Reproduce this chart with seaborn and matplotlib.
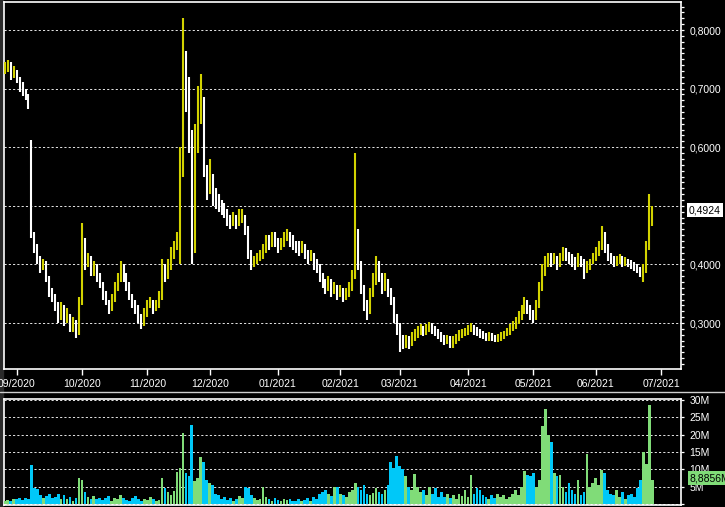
import numpy as np
import pandas as pd
import matplotlib
matplotlib.use("Agg")
import matplotlib.pyplot as plt
import matplotlib.transforms as mtransforms
from matplotlib.lines import Line2D
from matplotlib.patches import Rectangle
from matplotlib.ticker import MultipleLocator, FuncFormatter, FixedLocator
import seaborn as sns

sns.set_theme(style="dark")
plt.rcParams['font.family'] = ['Liberation Sans', 'DejaVu Sans']

# ---- data (one bar per business day) ----
start_date = "2020-08-26"
end_date = "2021-06-28"

close = [
    0.735, 0.742, 0.722, 0.728, 0.715, 0.705, 0.698, 0.688, 0.672, 0.450,
    0.430, 0.410, 0.395, 0.400, 0.375, 0.355, 0.345, 0.330, 0.310, 0.325,
    0.305, 0.310, 0.290, 0.300, 0.285, 0.330, 0.440, 0.400, 0.410, 0.385,
    0.395, 0.380, 0.365, 0.350, 0.335, 0.325, 0.340, 0.360, 0.375, 0.395,
    0.380, 0.365, 0.345, 0.330, 0.325, 0.310, 0.300, 0.315, 0.330, 0.335,
    0.325, 0.330, 0.345, 0.390, 0.380, 0.395, 0.415, 0.430, 0.440, 0.560,
    0.740, 0.700, 0.620, 0.430, 0.600, 0.660, 0.680, 0.560, 0.530, 0.550,
    0.520, 0.510, 0.500, 0.495, 0.490, 0.475, 0.470, 0.480, 0.470, 0.475,
    0.480, 0.460, 0.420, 0.400, 0.405, 0.410, 0.415, 0.425, 0.440, 0.435,
    0.445, 0.440, 0.430, 0.435, 0.445, 0.450, 0.440, 0.435, 0.430, 0.425,
    0.430, 0.420, 0.410, 0.415, 0.400, 0.395, 0.380, 0.370, 0.360, 0.370,
    0.355, 0.360, 0.350, 0.355, 0.345, 0.350, 0.360, 0.380, 0.450, 0.400,
    0.360, 0.330, 0.320, 0.350, 0.370, 0.400, 0.380, 0.360, 0.370, 0.355,
    0.340, 0.310, 0.295, 0.270, 0.265, 0.270, 0.265, 0.275, 0.280, 0.285,
    0.290, 0.285, 0.290, 0.295, 0.290, 0.285, 0.280, 0.275, 0.270, 0.272,
    0.265, 0.270, 0.275, 0.280, 0.282, 0.285, 0.290, 0.292, 0.288, 0.285,
    0.280, 0.278, 0.275, 0.278, 0.275, 0.273, 0.275, 0.278, 0.280, 0.285,
    0.290, 0.295, 0.300, 0.310, 0.320, 0.330, 0.325, 0.315, 0.310, 0.330,
    0.360, 0.390, 0.400, 0.410, 0.405, 0.410, 0.400, 0.410, 0.420, 0.415,
    0.410, 0.405, 0.400, 0.410, 0.405, 0.390, 0.395, 0.400, 0.410, 0.420,
    0.430, 0.450, 0.430, 0.415, 0.410, 0.400, 0.405, 0.410, 0.400, 0.405,
    0.400, 0.398, 0.395, 0.390, 0.385, 0.390, 0.430, 0.470, 0.4924,
]

high = [
    0.745, 0.748, 0.745, 0.738, 0.732, 0.720, 0.712, 0.700, 0.690, 0.612,
    0.455, 0.435, 0.415, 0.410, 0.405, 0.380, 0.360, 0.350, 0.335, 0.335,
    0.330, 0.325, 0.315, 0.310, 0.305, 0.345, 0.470, 0.445, 0.420, 0.415,
    0.405, 0.400, 0.385, 0.370, 0.355, 0.340, 0.350, 0.370, 0.385, 0.405,
    0.400, 0.385, 0.370, 0.350, 0.340, 0.330, 0.315, 0.325, 0.340, 0.345,
    0.340, 0.340, 0.355, 0.410, 0.400, 0.410, 0.430, 0.440, 0.455, 0.600,
    0.820, 0.765, 0.720, 0.630, 0.640, 0.705, 0.725, 0.685, 0.570, 0.580,
    0.555, 0.530, 0.520, 0.510, 0.505, 0.495, 0.485, 0.490, 0.485, 0.495,
    0.495, 0.485, 0.465, 0.425, 0.415, 0.420, 0.425, 0.435, 0.450, 0.450,
    0.455, 0.455, 0.445, 0.445, 0.455, 0.460, 0.455, 0.450, 0.440, 0.440,
    0.440, 0.435, 0.425, 0.425, 0.420, 0.410, 0.400, 0.385, 0.375, 0.380,
    0.375, 0.370, 0.365, 0.365, 0.360, 0.360, 0.370, 0.390, 0.590, 0.460,
    0.405, 0.365, 0.340, 0.360, 0.385, 0.415, 0.405, 0.385, 0.385, 0.375,
    0.360, 0.345, 0.315, 0.300, 0.280, 0.280, 0.278, 0.285, 0.290, 0.295,
    0.298, 0.295, 0.298, 0.302, 0.300, 0.295, 0.290, 0.285, 0.280, 0.280,
    0.278, 0.278, 0.282, 0.288, 0.290, 0.292, 0.296, 0.300, 0.296, 0.293,
    0.290, 0.286, 0.283, 0.285, 0.283, 0.280, 0.282, 0.285, 0.287, 0.292,
    0.298, 0.303, 0.310, 0.320, 0.330, 0.345, 0.340, 0.330, 0.322, 0.340,
    0.370, 0.400, 0.415, 0.420, 0.420, 0.420, 0.415, 0.420, 0.430, 0.428,
    0.422, 0.418, 0.412, 0.420, 0.415, 0.410, 0.405, 0.410, 0.420, 0.430,
    0.440, 0.465, 0.455, 0.435, 0.420, 0.415, 0.415, 0.418, 0.415, 0.412,
    0.410, 0.407, 0.404, 0.400, 0.395, 0.400, 0.440, 0.520, 0.500,
]

low = [
    0.725, 0.728, 0.715, 0.718, 0.710, 0.695, 0.688, 0.680, 0.665, 0.445,
    0.420, 0.400, 0.385, 0.390, 0.370, 0.345, 0.335, 0.320, 0.300, 0.305,
    0.295, 0.300, 0.285, 0.285, 0.275, 0.280, 0.330, 0.390, 0.395, 0.380,
    0.380, 0.370, 0.360, 0.340, 0.330, 0.315, 0.320, 0.335, 0.355, 0.370,
    0.370, 0.355, 0.340, 0.325, 0.315, 0.300, 0.290, 0.295, 0.310, 0.325,
    0.315, 0.320, 0.325, 0.340, 0.370, 0.375, 0.390, 0.410, 0.425, 0.400,
    0.550, 0.660, 0.590, 0.400, 0.420, 0.590, 0.640, 0.550, 0.510, 0.520,
    0.500, 0.495, 0.490, 0.485, 0.480, 0.465, 0.460, 0.465, 0.460, 0.465,
    0.470, 0.450, 0.410, 0.390, 0.395, 0.400, 0.405, 0.410, 0.420, 0.425,
    0.430, 0.430, 0.420, 0.425, 0.430, 0.440, 0.430, 0.425, 0.420, 0.415,
    0.420, 0.410, 0.400, 0.405, 0.390, 0.385, 0.370, 0.360, 0.350, 0.355,
    0.345, 0.350, 0.340, 0.345, 0.335, 0.340, 0.345, 0.355, 0.375, 0.390,
    0.350, 0.320, 0.305, 0.315, 0.345, 0.365, 0.370, 0.350, 0.355, 0.345,
    0.330, 0.300, 0.280, 0.250, 0.255, 0.258, 0.255, 0.260, 0.270, 0.275,
    0.280, 0.278, 0.280, 0.285, 0.282, 0.278, 0.272, 0.268, 0.262, 0.265,
    0.258, 0.258, 0.265, 0.270, 0.275, 0.277, 0.280, 0.284, 0.280, 0.278,
    0.274, 0.272, 0.270, 0.270, 0.270, 0.268, 0.268, 0.270, 0.273, 0.277,
    0.280, 0.286, 0.290, 0.298, 0.305, 0.315, 0.315, 0.305, 0.300, 0.305,
    0.325, 0.355, 0.380, 0.395, 0.395, 0.400, 0.390, 0.395, 0.405, 0.405,
    0.400, 0.395, 0.390, 0.395, 0.395, 0.375, 0.385, 0.390, 0.400, 0.405,
    0.415, 0.425, 0.420, 0.405, 0.400, 0.395, 0.397, 0.400, 0.395, 0.397,
    0.395, 0.392, 0.388, 0.385, 0.378, 0.370, 0.385, 0.425, 0.465,
]

# volume in millions
volume_m = [
    0.8, 1.2, 0.9, 1.5, 1.4, 1.8, 1.2, 1.6, 1.4, 11.2,
    4.6, 4.2, 2.5, 1.8, 2.2, 2.8, 1.6, 2.0, 3.0, 1.5,
    2.6, 1.3, 2.0, 1.0, 1.8, 7.6, 6.8, 3.5, 2.0, 1.5,
    2.2, 1.4, 1.8, 1.2, 1.6, 2.3, 1.0, 1.8, 1.4, 2.5,
    1.8, 1.2, 1.0, 1.6, 2.4, 1.3, 0.8, 1.5, 1.2, 2.0,
    1.4, 0.9, 1.2, 7.4, 4.5, 3.5, 2.5, 3.8, 9.2, 10.5,
    20.4, 9.0, 8.0, 22.7, 6.5, 7.5, 13.5, 12.0, 7.0, 6.0,
    5.5, 3.0, 2.5, 1.5, 2.0, 1.2, 1.8, 1.0, 1.4, 2.2,
    1.6, 5.0, 4.5, 2.5, 1.8, 1.2, 1.5, 5.0, 2.0, 1.4,
    1.0, 1.6, 1.2, 0.9, 1.5, 1.1, 1.3, 0.8, 1.0, 1.4,
    0.9, 1.2, 1.6, 1.0, 2.0, 1.5, 2.8, 3.5, 4.0, 3.0,
    2.2, 5.0, 5.0, 3.0, 2.5, 2.0, 3.5, 4.0, 6.0, 5.0,
    4.0, 5.5, 3.0, 2.5, 3.2, 4.5, 3.5, 2.8, 4.0, 5.5,
    12.0, 10.5, 13.8, 11.0, 10.0, 8.0, 5.0, 4.0, 8.6, 5.0,
    3.5, 4.0, 2.5, 5.0, 3.0, 4.5, 2.0, 3.5, 2.0, 3.0,
    1.8, 2.5, 1.5, 3.0, 2.2, 4.0, 2.0, 8.5, 3.0, 4.5,
    4.0, 2.5, 2.0, 1.5, 2.5, 1.8, 3.0, 2.0, 2.5, 1.5,
    2.0, 3.0, 4.0, 2.5, 5.0, 9.5, 8.5, 8.0, 9.0, 5.0,
    7.0, 22.5, 27.5, 20.0, 18.0, 9.0, 8.0, 8.5, 5.0, 3.5,
    6.0, 4.0, 3.0, 7.0, 2.5, 3.5, 14.5, 5.0, 6.0, 7.5,
    5.5, 9.8, 9.0, 4.0, 3.0, 2.5, 4.0, 2.0, 3.5, 1.5,
    2.5, 3.0, 2.0, 4.5, 7.0, 15.0, 11.5, 28.5, 6.8,
]

month_starts = ["2020-09-01", "2020-10-01", "2020-11-01", "2020-12-01",
                "2021-01-01", "2021-02-01", "2021-03-01", "2021-04-01",
                "2021-05-01", "2021-06-01", "2021-07-01"]
last_price = 0.4924
last_price_label = "0,4924"
last_volume = 8.8856
last_volume_label = "8,8856M"

# colours
UP_CANDLE = "#d2d200"
DOWN_CANDLE = "#ffffff"
UP_VOL = "#80dc78"
DOWN_VOL = "#00c8f8"

dates = pd.bdate_range(start_date, end_date)
df = pd.DataFrame({"date": dates, "close": close, "high": high,
                   "low": low, "volume": volume_m})
df["pos"] = np.arange(len(df))
prev_close = df["close"].shift(1).fillna(df["close"])
df["up"] = df["close"] >= prev_close

# tick positions: first business day of each month on the same bar scale
calendar = pd.bdate_range(start_date, "2021-07-30")
tick_pos = [calendar.searchsorted(pd.Timestamp(m)) for m in month_starts]
tick_lab = [pd.Timestamp(m).strftime("%m/%Y") for m in month_starts]

# ---- figure layout in pixels ----
W, H = 725, 507
fig = plt.figure(figsize=(W / 100, H / 100), dpi=100, facecolor="black")


def px_box(l, t, r, b):
    return [l / W, 1 - b / H, (r - l) / W, (b - t) / H]


ax = fig.add_axes(px_box(4, 2, 681, 369))
axv = fig.add_axes(px_box(4, 399, 681, 505))

xmin, xmax = -0.24, 227.7
dash = (0, (2.2, 2.2))

for a in (ax, axv):
    a.set_facecolor("black")
    for s in a.spines.values():
        s.set_color("white")
        s.set_linewidth(1.2)
    a.set_xlim(xmin, xmax)


def price_fmt(v, p):
    # the 0,5000 label sits under the last-price box
    if abs(v - 0.5) < 1e-6:
        return ""
    return f"{v:.4f}".replace(".", ",")


# ---- price pane ----
colors = np.where(df["up"], UP_CANDLE, DOWN_CANDLE)
ax.vlines(df["pos"], df["low"], df["high"], colors=colors, linewidth=1.5, zorder=3)
ax.set_ylim(0.2215, 0.8478)
ax.yaxis.tick_right()
ax.yaxis.set_major_locator(MultipleLocator(0.1))
ax.yaxis.set_minor_locator(MultipleLocator(0.01))
ax.yaxis.set_major_formatter(FuncFormatter(price_fmt))
ax.tick_params(axis="y", which="both", colors="white", direction="out",
               length=2.4, width=0.9, labelsize=7.5, pad=3.5, labelcolor="white")
ax.xaxis.set_major_locator(FixedLocator(tick_pos))
ax.set_xticklabels(tick_lab)
ax.tick_params(axis="x", which="major", colors="white", direction="out", bottom=True,
               length=4.3, width=1, labelsize=7.5, pad=3.0, labelcolor="white")
ax.grid(False)
ax.grid(axis="y", which="major", color="white", linestyle=dash, linewidth=0.7, alpha=0.9)
ax.set_xlabel("")
ax.set_ylabel("")

trans = mtransforms.blended_transform_factory(ax.transAxes, ax.transData)
ax.text(1 + 8 / 677, last_price, last_price_label, transform=trans, ha="left",
        va="center", color="black", fontsize=7.5, clip_on=False, zorder=10,
        bbox=dict(boxstyle="square,pad=0.18", fc="white", ec="none"))

# ---- volume pane ----
sns.barplot(data=df, x="pos", y="volume", hue="up", dodge=False,
            palette={True: UP_VOL, False: DOWN_VOL}, native_scale=True,
            width=0.9, saturation=1, linewidth=0, errorbar=None,
            legend=False, ax=axv, zorder=3)
axv.set_xlim(xmin, xmax)
axv.set_ylim(-0.29, 30.3)
axv.set_xticks([])
axv.set_xlabel("")
axv.set_ylabel("")
axv.yaxis.tick_right()
axv.yaxis.set_major_locator(MultipleLocator(5))
axv.yaxis.set_major_formatter(FuncFormatter(lambda v, p: f"{int(round(v))}M" if v > 0.5 else ""))
axv.tick_params(axis="y", colors="white", direction="out", length=2.4, width=0.9,
                labelsize=7.5, pad=3.5, labelcolor="white")
axv.grid(False)
axv.grid(axis="y", color="white", linestyle=dash, linewidth=0.7, alpha=0.9)

transv = mtransforms.blended_transform_factory(axv.transAxes, axv.transData)
axv.text(1 + 9 / 677, last_volume, last_volume_label, transform=transv, ha="left",
         va="top", color="black", fontsize=7.5, clip_on=False, zorder=10,
         bbox=dict(boxstyle="square,pad=0.2", fc=UP_VOL, ec="none"))

# separator line between panes and dark frame strip on the left
fig.add_artist(Line2D([0, 1], [1 - 391.5 / H] * 2, color="#d0d0d0", linewidth=1.0))
fig.add_artist(Rectangle((0, 0), 2.5 / W, 1, transform=fig.transFigure,
                         color="#2a2a2a", zorder=-1))

fig.savefig("out.png", dpi=100, facecolor="black")
